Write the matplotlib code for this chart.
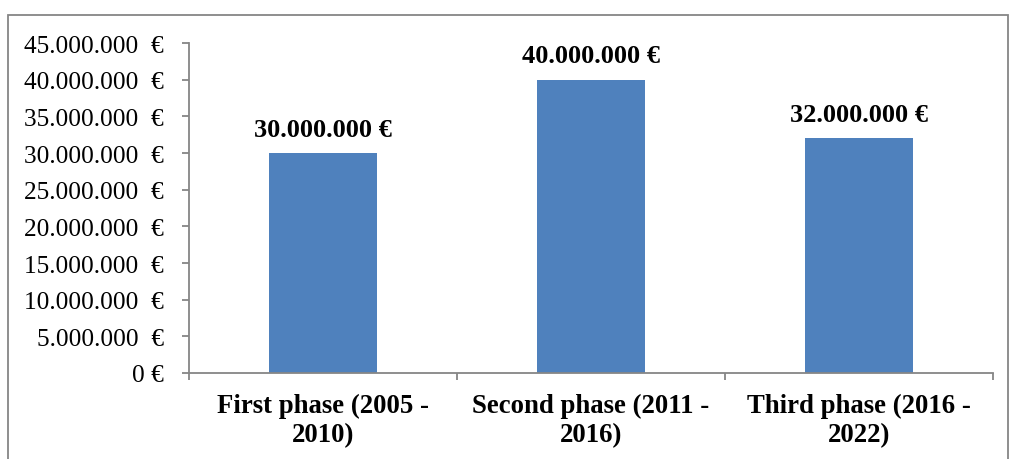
import matplotlib.pyplot as plt
from matplotlib.patches import Rectangle
from matplotlib.ticker import FuncFormatter

plt.rcParams['font.family'] = ['Liberation Serif', 'DejaVu Serif']

# Funding per phase
phases = ['First phase (2005 -\n2010)', 'Second phase (2011 -\n2016)', 'Third phase (2016 -\n2022)']
budget = [30000000, 40000000, 32000000]
y_ticks = [0, 5000000, 10000000, 15000000, 20000000, 25000000, 30000000, 35000000, 40000000, 45000000]

bar_color = '#4F81BD'
axis_color = '#868686'


def euro(v, pos=None):
    if v == 0:
        return '0 €'
    return f'{int(v):,}'.replace(',', '.') + '  €'


fig = plt.figure(figsize=(10.09, 4.60), dpi=100)
ax = fig.add_axes([0.1873, 0.187, 0.7968, 0.717])

x = range(len(phases))
bars = ax.bar(x, budget, width=0.403, color=bar_color)

for b, v in zip(bars, budget):
    ax.annotate(f'{v:,}'.replace(',', '.') + ' €',
                xy=(b.get_x() + b.get_width() / 2, v),
                xytext=(0, 9), textcoords='offset points',
                ha='center', va='bottom', fontsize=19, fontweight='bold')

ax.set_xlim(-0.5, len(phases) - 0.5)
ax.set_ylim(0, 45000000)
ax.set_yticks(y_ticks)
ax.yaxis.set_major_formatter(FuncFormatter(euro))
ax.tick_params(axis='y', labelsize=18.3, length=5, width=1.3, color=axis_color, pad=13)

# category boundaries carry the tick marks, labels sit at the centres
ax.set_xticks([-0.5, 0.5, 1.5, 2.5])
ax.set_xticklabels([])
ax.set_xticks(list(x), minor=True)
ax.set_xticklabels(phases, minor=True, fontsize=19.3, fontweight='bold', linespacing=1.25)
ax.tick_params(axis='x', which='major', length=5, width=1.3, color=axis_color)
ax.tick_params(axis='x', which='minor', length=0, pad=14)

for side in ['top', 'right']:
    ax.spines[side].set_visible(False)
for side in ['left', 'bottom']:
    ax.spines[side].set_color(axis_color)
    ax.spines[side].set_linewidth(1.3)

# chart area frame
fig.patches.append(Rectangle((0.0079, -0.1), 0.9911, 1.0652, transform=fig.transFigure,
                             fill=False, edgecolor=axis_color, linewidth=1.3))

fig.savefig('out.png', dpi=100)
